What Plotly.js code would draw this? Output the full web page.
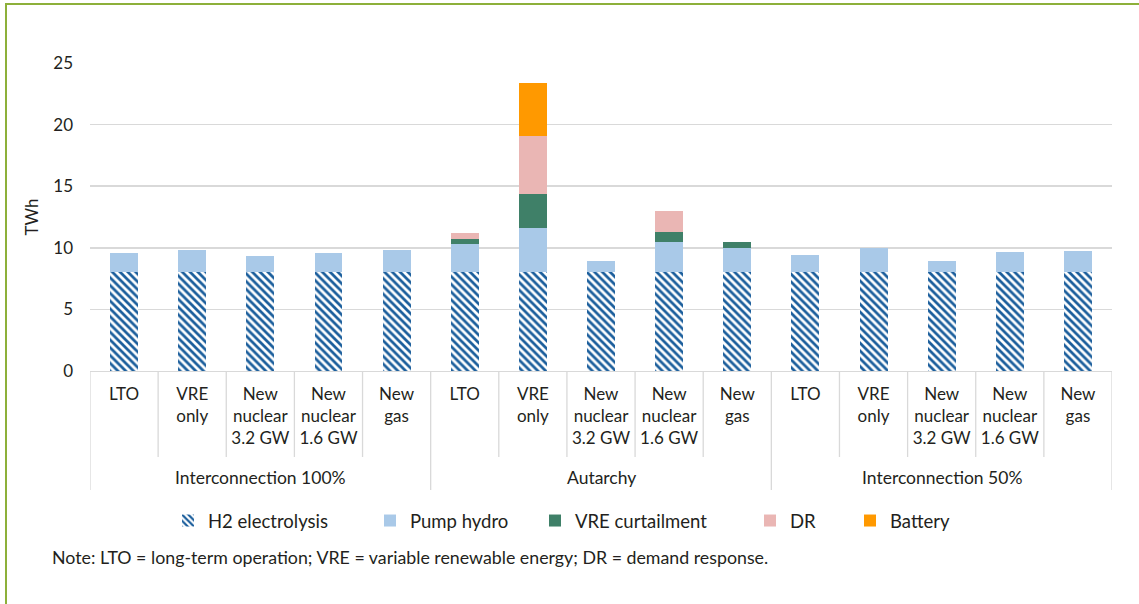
<!DOCTYPE html>
<html>
<head>
<meta charset="utf-8">
<script src="https://cdn.plot.ly/plotly-3.0.1.min.js"></script>
<style>
  html, body { margin: 0; padding: 0; background: #ffffff; }
  #wrap { position: relative; width: 1139px; height: 604px; overflow: hidden; }
  #chart { position: absolute; left: 0; top: 0; width: 1139px; height: 604px; }
  #frame { position: absolute; left: 5px; top: 3px; width: 1140px; height: 610px;
           border-top: 2px solid #8DB03A; border-left: 2px solid #8DB03A; pointer-events: none; }
</style>
</head>
<body>
<div id="wrap">
  <div id="chart"></div>
  <div id="frame"></div>
</div>
<script>
// ---- data ----
const groups = ['Interconnection 100%', 'Autarchy', 'Interconnection 50%'];
const scenarios = ['LTO', 'VRE<br>only', 'New<br>nuclear<br>3.2 GW', 'New<br>nuclear<br>1.6 GW', 'New<br>gas'];

const seriesNames = ['H2 electrolysis', 'Pump hydro', 'VRE curtailment', 'DR', 'Battery'];
const h2Electrolysis = [8.0, 8.0, 8.0, 8.0, 8.0,   8.0, 8.0, 8.0, 8.0, 8.0,   8.0, 8.0, 8.0, 8.0, 8.0];
const pumpHydro      = [1.6, 1.8, 1.35, 1.6, 1.8,  2.3, 3.6, 0.9, 2.5, 2.0,   1.4, 2.0, 0.95, 1.7, 1.75];
const vreCurtailment = [0, 0, 0, 0, 0,             0.4, 2.75, 0, 0.8, 0.5,    0, 0, 0, 0, 0];
const demandResponse = [0, 0, 0, 0, 0,             0.5, 4.7, 0, 1.7, 0,       0, 0, 0, 0, 0];
const battery        = [0, 0, 0, 0, 0,             0, 4.35, 0, 0, 0,          0, 0, 0, 0, 0];

const yTicks = [0, 5, 10, 15, 20, 25];
const yTitle = 'TWh';
const note = 'Note: LTO = long-term operation; VRE = variable renewable energy; DR = demand response.';

// ---- build ----
const nS = scenarios.length;
const xIdx = [], tickText = [];
groups.forEach((g, gi) => scenarios.forEach((s, si) => { xIdx.push(gi * nS + si); tickText.push(s); }));

const FONT = 'Lato, Open Sans, sans-serif';
const TXT = '#231F20';
const FS = 17;
const values = [h2Electrolysis, pumpHydro, vreCurtailment, demandResponse, battery];
const colors = ['#1B5E9C', '#A9C9E8', '#3F8068', '#EAB6B4', '#FF9900'];
const legendKeys = ['legend', 'legend2', 'legend3', 'legend4', 'legend5'];

const traces = values.map((vals, k) => {
  const marker = { color: colors[k], line: { width: 0 } };
  if (k === 0) {
    marker.pattern = { shape: '\\', fillmode: 'replace', fgcolor: '#1B5E9C', bgcolor: '#ffffff', size: 5.5, solidity: 0.5 };
  }
  return {
    type: 'bar', name: seriesNames[k], x: xIdx,
    y: vals.map(v => v === 0 ? null : v),
    marker: marker, legend: legendKeys[k], hoverinfo: 'name+y'
  };
});

// plot geometry helpers (for decorations only)
const M = { l: 90, r: 27, t: 63, b: 233 };
const W = 1139, H = 604;
const PW = W - M.l - M.r, PH = H - M.t - M.b;
const py = (pix) => (M.t + PH - pix) / PH;   // pixel y -> paper y
const px = (pix) => (pix - M.l) / PW;        // pixel x -> paper x

const shapes = [];
const nAll = xIdx.length;
for (let i = 0; i <= nAll; i++) {
  const isGroupEdge = (i % nS === 0);
  shapes.push({
    type: 'line', xref: 'x', yref: 'paper',
    x0: i - 0.5, x1: i - 0.5, y0: 0, y1: py(isGroupEdge ? 490 : 457),
    line: { color: '#D9D9D9', width: 1.3 }
  });
}

const annotations = groups.map((g, gi) => ({
  text: g, xref: 'x', yref: 'paper', x: gi * nS + (nS - 1) / 2, y: py(477),
  xanchor: 'center', yanchor: 'middle', showarrow: false,
  font: { family: FONT, size: 17.5, color: TXT }
}));
annotations.push({
  text: note, xref: 'paper', yref: 'paper', x: px(50), y: py(557),
  xanchor: 'left', yanchor: 'middle', showarrow: false,
  font: { family: FONT, size: 17.8, color: TXT }
});

const legendTextStarts = [208, 410, 575, 790, 890];
const layout = {
  width: W, height: H, margin: M,
  paper_bgcolor: 'rgba(0,0,0,0)', plot_bgcolor: '#ffffff',
  barmode: 'stack', bargap: 0.59,
  font: { family: FONT, size: FS, color: TXT },
  xaxis: {
    range: [-0.5, nAll - 0.5], tickvals: xIdx, ticktext: tickText,
    showgrid: false, zeroline: false, showline: true, linecolor: '#D9D9D9', linewidth: 1.3,
    ticks: '', ticklabelstandoff: 7,
    tickfont: { family: FONT, size: FS, color: TXT }, fixedrange: true
  },
  yaxis: {
    range: [0, 25], tickvals: yTicks, showgrid: true, gridcolor: '#D9D9D9', gridwidth: 1.5,
    zeroline: false, showline: false, ticks: '', ticklabelstandoff: 16,
    tickfont: { family: FONT, size: FS, color: TXT },
    title: { text: yTitle, standoff: 10, font: { family: FONT, size: FS, color: TXT } },
    fixedrange: true
  },
  shapes: shapes,
  annotations: annotations,
  showlegend: true
};
legendKeys.forEach((key, k) => {
  layout[key] = {
    orientation: 'h', x: px(legendTextStarts[k] - 40), xanchor: 'left',
    y: py(521), yanchor: 'middle', bgcolor: 'rgba(0,0,0,0)', borderwidth: 0,
    font: { family: FONT, size: 18.5, color: TXT }
  };
});

Plotly.newPlot('chart', traces, layout, { displayModeBar: false, staticPlot: true });
</script>
</body>
</html>
